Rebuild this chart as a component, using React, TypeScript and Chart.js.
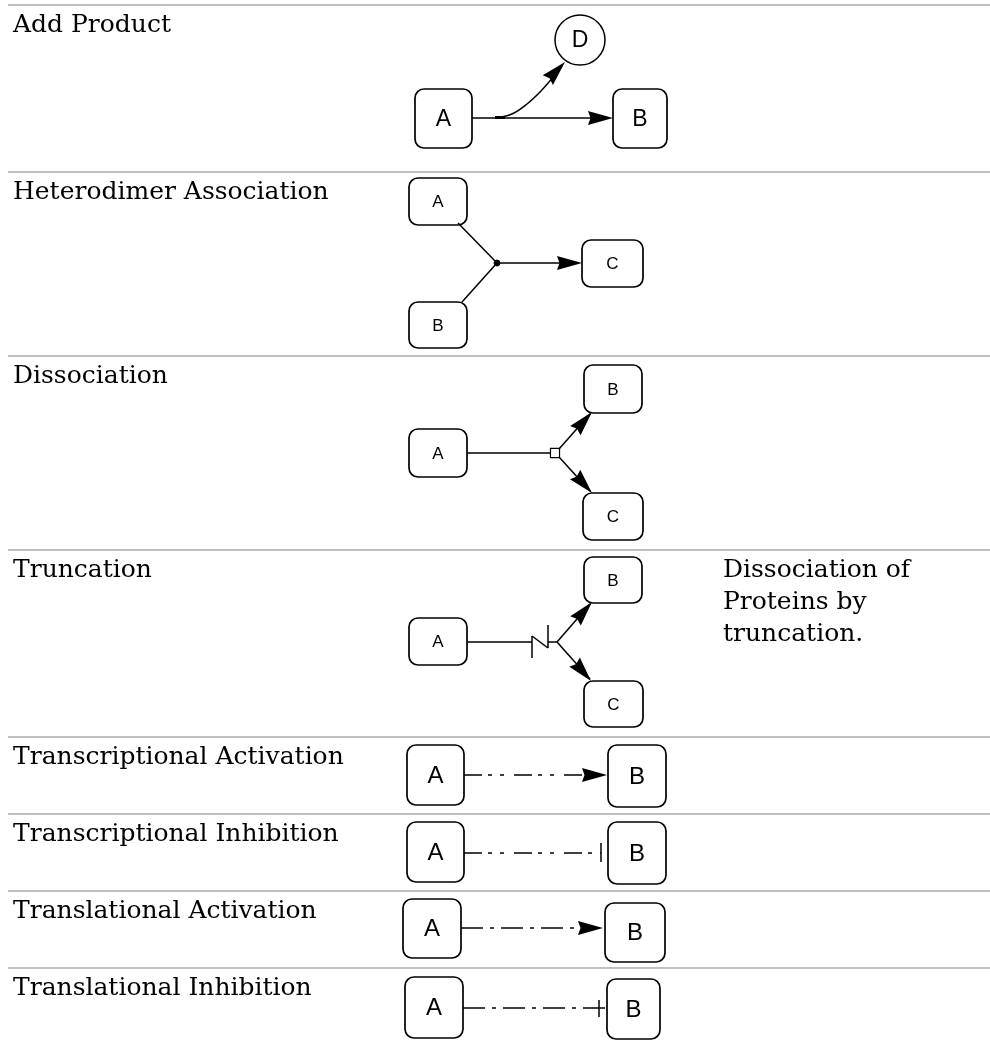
import React, { useEffect, useRef } from "react";
import { Chart, registerables } from "chart.js";

Chart.register(...registerables);

type Seg = [number, number, number, number];
type Box = [string, number, number, number, number, number];

// Row titles and the y of the grey rule above each row
const rowLabels: string[] = [
  "Add Product",
  "Heterodimer Association",
  "Dissociation",
  "Truncation",
  "Transcriptional Activation",
  "Transcriptional Inhibition",
  "Translational Activation",
  "Translational Inhibition",
];
const rowTops: number[] = [5, 172, 356, 550, 737, 814, 891, 968];

// Side note on the truncation row
const noteLines: string[] = ["Dissociation of", "Proteins by", "truncation."];
const noteRowIndex = 3;

// Nodes: [label, x1, y1, x2, y2, font px]
const boxes: Box[] = [
  ["A", 415, 89, 472, 148, 23],
  ["B", 613, 89, 667, 148, 23],
  ["A", 409, 178, 467, 225, 17],
  ["B", 409, 302, 467, 348, 17],
  ["C", 582, 240, 643, 287, 17],
  ["A", 409, 429, 467, 477, 17],
  ["B", 584, 365, 642, 413, 17],
  ["C", 583, 493, 643, 540, 17],
  ["A", 409, 618, 467, 665, 17],
  ["B", 584, 557, 642, 603, 17],
  ["C", 584, 681, 643, 727, 17],
  ["A", 407, 745, 464, 805, 24],
  ["B", 608, 745, 666, 807, 24],
  ["A", 407, 822, 464, 882, 24],
  ["B", 608, 822, 666, 884, 24],
  ["A", 403, 899, 461, 958, 24],
  ["B", 605, 903, 665, 962, 24],
  ["A", 405, 977, 463, 1038, 24],
  ["B", 607, 979, 660, 1039, 24],
];

// Circle node D
const circleNodes: { label: string; x: number; y: number }[] = [{ label: "D", x: 580, y: 40 }];

// Solid edges
const solidEdges: Seg[] = [
  [472, 118, 600, 118],
  [458, 223, 497, 263],
  [462, 302, 497, 263],
  [497, 263, 570, 263],
  [467, 453, 551, 453],
  [559, 449, 590, 414],
  [559, 457, 590, 491],
  [467, 642, 532, 642],
  [532, 636, 532, 658],
  [532, 636, 548, 648],
  [548, 625, 548, 648],
  [548, 642, 557, 642],
  [557, 642, 590, 604],
  [557, 642, 590, 679],
  [601, 843, 601, 862],
  [599, 1000, 599, 1017],
];

// Dash-dot edges (transcriptional)
const transcriptionEdges: Seg[] = [
  [464, 775, 596, 775],
  [464, 853, 601, 853],
];
// Dash-dot edges (translational)
const translationEdges: Seg[] = [
  [461, 928, 592, 928],
  [463, 1008, 607, 1008],
];

// Curved edge A -> D
const curvePoints: { x: number; y: number }[] = [
  { x: 497, y: 118 },
  { x: 512, y: 114 },
  { x: 527, y: 104 },
  { x: 541, y: 91 },
  { x: 555, y: 75 },
  { x: 562, y: 66 },
];
const curveStartMark: Seg = [495, 117.5, 505, 117.5];

// Arrowheads: [tipX, tipY, fromX, fromY]
const arrowHeads: Seg[] = [
  [613, 118, 472, 118],
  [565, 62, 548, 80],
  [582, 263, 497, 263],
  [592, 412, 559, 449],
  [592, 493, 559, 457],
  [592, 602, 557, 642],
  [591, 681, 557, 642],
  [607, 775, 464, 775],
  [603, 928, 461, 928],
];

// Small markers
const junctionDots: { x: number; y: number }[] = [{ x: 497, y: 263 }];
const openSquares: { x: number; y: number }[] = [{ x: 555, y: 453 }];

const W = 990;
const H = 1043;

const segDataset = (s: Seg, extra: any = {}) => ({
  type: "line" as const,
  data: [
    { x: s[0], y: s[1] },
    { x: s[2], y: s[3] },
  ],
  borderColor: "#000",
  borderWidth: 1.5,
  pointRadius: 0,
  showLine: true,
  fill: false,
  tension: 0,
  order: 2,
  ...extra,
});

const diagramPlugin = {
  id: "diagramPlugin",
  beforeDatasetsDraw(chart: any) {
    const { ctx, scales } = chart;
    const xs = scales.x;
    const ys = scales.y;
    ctx.save();
    // row titles
    ctx.fillStyle = "#000";
    ctx.font = '25px "DejaVu Serif"';
    ctx.textAlign = "left";
    ctx.textBaseline = "alphabetic";
    rowLabels.forEach((label, i) => {
      ctx.fillText(label, xs.getPixelForValue(13), ys.getPixelForValue(rowTops[i] + 27));
    });
    noteLines.forEach((line, i) => {
      ctx.fillText(line, xs.getPixelForValue(723), ys.getPixelForValue(rowTops[noteRowIndex] + 27 + i * 32));
    });
    // boxes
    for (const [, x1, y1, x2, y2] of boxes) {
      const px1 = xs.getPixelForValue(x1);
      const px2 = xs.getPixelForValue(x2);
      const py1 = ys.getPixelForValue(y1);
      const py2 = ys.getPixelForValue(y2);
      ctx.beginPath();
      ctx.roundRect(px1, py1, px2 - px1, py2 - py1, 9);
      ctx.fillStyle = "#fff";
      ctx.fill();
      ctx.lineWidth = 1.7;
      ctx.strokeStyle = "#000";
      ctx.stroke();
    }
    ctx.restore();
  },
  afterDatasetsDraw(chart: any) {
    const { ctx, scales } = chart;
    const xs = scales.x;
    const ys = scales.y;
    ctx.save();
    // node labels
    ctx.fillStyle = "#000";
    ctx.textAlign = "center";
    ctx.textBaseline = "middle";
    for (const [label, x1, y1, x2, y2, fs] of boxes) {
      ctx.font = `${fs}px "Liberation Sans"`;
      ctx.fillText(label, xs.getPixelForValue((x1 + x2) / 2), ys.getPixelForValue((y1 + y2) / 2 + 1));
    }
    for (const c of circleNodes) {
      ctx.font = '23px "Liberation Sans"';
      ctx.fillText(c.label, xs.getPixelForValue(c.x), ys.getPixelForValue(c.y + 1));
    }
    // arrowheads
    for (const [tx, ty, fx, fy] of arrowHeads) {
      const ptx = xs.getPixelForValue(tx);
      const pty = ys.getPixelForValue(ty);
      const pfx = xs.getPixelForValue(fx);
      const pfy = ys.getPixelForValue(fy);
      const dx = ptx - pfx;
      const dy = pty - pfy;
      const len = Math.hypot(dx, dy) || 1;
      const ux = dx / len;
      const uy = dy / len;
      const nx = -uy;
      const ny = ux;
      const L = 25;
      const hw = 7;
      const bx = ptx - ux * L;
      const by = pty - uy * L;
      ctx.beginPath();
      ctx.moveTo(ptx, pty);
      ctx.lineTo(bx + nx * hw, by + ny * hw);
      ctx.lineTo(ptx - ux * (L - 2.5), pty - uy * (L - 2.5));
      ctx.lineTo(bx - nx * hw, by - ny * hw);
      ctx.closePath();
      ctx.fillStyle = "#000";
      ctx.fill();
    }
    ctx.restore();
  },
};

export default function App() {
  const canvasRef = useRef<HTMLCanvasElement | null>(null);

  useEffect(() => {
    if (!canvasRef.current) return;
    const datasets: any[] = [];

    // markers on top
    datasets.push({
      type: "scatter",
      data: circleNodes.map((c) => ({ x: c.x, y: c.y })),
      pointStyle: "circle",
      pointRadius: 25,
      pointBackgroundColor: "#fff",
      pointBorderColor: "#000",
      pointBorderWidth: 1.5,
      order: 0,
    });
    datasets.push({
      type: "scatter",
      data: junctionDots,
      pointStyle: "circle",
      pointRadius: 3,
      pointBackgroundColor: "#000",
      pointBorderColor: "#000",
      pointBorderWidth: 1,
      order: 0,
    });
    datasets.push({
      type: "scatter",
      data: openSquares,
      pointStyle: "rect",
      pointRadius: 6.4,
      pointBackgroundColor: "#fff",
      pointBorderColor: "#000",
      pointBorderWidth: 1.2,
      order: 0,
    });

    // separators
    rowTops.forEach((t) => {
      datasets.push(
        segDataset([8, t, 990, t], { borderColor: "#c0c0c0", borderWidth: 2.2, order: 3 })
      );
    });

    solidEdges.forEach((s) => datasets.push(segDataset(s)));
    transcriptionEdges.forEach((s) =>
      datasets.push(segDataset(s, { borderDash: [18, 6, 4, 8, 4, 10] }))
    );
    translationEdges.forEach((s) =>
      datasets.push(segDataset(s, { borderDash: [22, 7, 4, 7] }))
    );
    datasets.push({
      type: "line",
      data: curvePoints,
      borderColor: "#000",
      borderWidth: 1.5,
      pointRadius: 0,
      showLine: true,
      fill: false,
      tension: 0.4,
      order: 2,
    });
    datasets.push(segDataset(curveStartMark, { borderWidth: 3 }));

    const chart = new Chart(canvasRef.current, {
      type: "scatter",
      data: { datasets },
      options: {
        animation: false,
        responsive: false,
        maintainAspectRatio: false,
        devicePixelRatio: 1,
        layout: { padding: 0, autoPadding: false },
        events: [],
        plugins: {
          legend: { display: false },
          tooltip: { enabled: false },
          title: { display: false },
        },
        scales: {
          x: { type: "linear", min: 0, max: W, display: false },
          y: { type: "linear", min: 0, max: H, reverse: true, display: false },
        },
      },
      plugins: [diagramPlugin],
    });
    return () => chart.destroy();
  }, []);

  return (
    <div style={{ position: "absolute", left: 0, top: 0, width: W, height: H, background: "#fff" }}>
      <canvas ref={canvasRef} width={W} height={H} style={{ display: "block", width: W, height: H }} />
    </div>
  );
}
